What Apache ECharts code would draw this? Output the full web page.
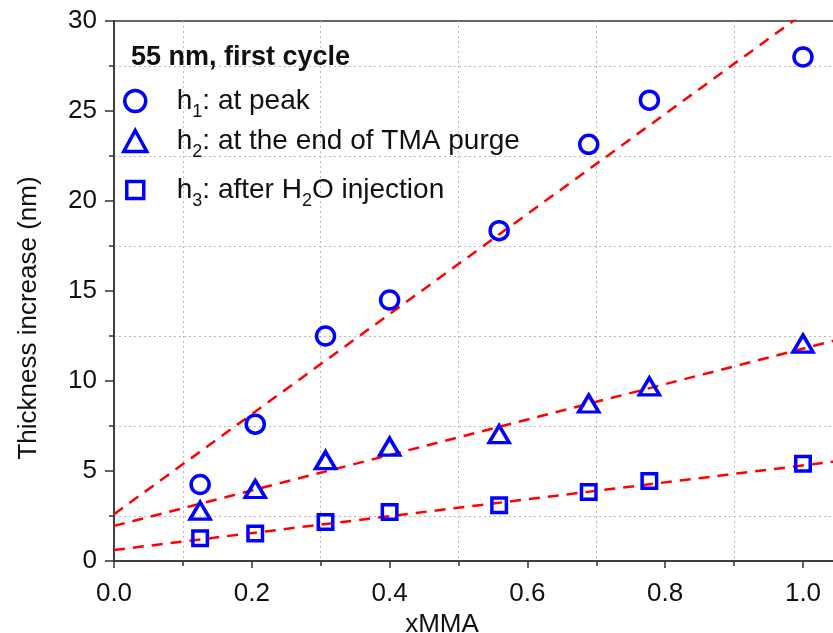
<!DOCTYPE html>
<html>
<head>
<meta charset="utf-8">
<script src="https://cdn.jsdelivr.net/npm/echarts@6/dist/echarts.min.js"></script>
<style>
  html, body { margin: 0; padding: 0; background: #fff; }
  #chart { width: 833px; height: 633px; }
</style>
</head>
<body>
<div id="chart"></div>
<script>
// MMA fraction of each sample
const xMMA = [0.125, 0.205, 0.307, 0.4, 0.559, 0.689, 0.777, 1.0];
// Thickness increase (nm)
const h1Peak = [4.25, 7.6, 12.5, 14.5, 18.35, 23.15, 25.6, 28.0];
const h2Purge = [2.8, 4.0, 5.6, 6.35, 7.05, 8.75, 9.7, 12.08];
const h3Water = [1.26, 1.53, 2.16, 2.72, 3.1, 3.83, 4.45, 5.4];
// Linear fits, evaluated at the ends of the x range
const fitX = [0, 1.05];
const fitH1 = [2.6, 31.79];
const fitH2 = [1.95, 12.29];
const fitH3 = [0.61, 5.545];

const FONT = '"Liberation Sans", Arial, sans-serif';
const BLUE = '#0000ff';
const RED = '#ff0000';

const pairs = (xs, ys) => xs.map((x, i) => [x, ys[i]]);

const legendRich = {
  n: { fontSize: 28, fontFamily: FONT, color: '#111', lineHeight: 40 },
  s: { fontSize: 18, fontFamily: FONT, color: '#111', lineHeight: 8, verticalAlign: 'bottom' }
};
const legendText = {
  h1: '{n|h}{s|1}{n|: at peak}',
  h2: '{n|h}{s|2}{n|: at the end of TMA purge}',
  h3: '{n|h}{s|3}{n|: after H}{s|2}{n|O injection}'
};
// one legend block per row so every row sits where it belongs
function makeLegend(name, top, w, h) {
  return {
    data: [name],
    left: 123 + (21 - w) / 2,
    top: top,
    padding: 0,
    itemWidth: w,
    itemHeight: h,
    itemGap: 0,
    selectedMode: false,
    itemStyle: { color: 'rgba(0,0,0,0)', borderColor: BLUE, borderWidth: 3.5, opacity: 1 },
    formatter: n => legendText[n],
    textStyle: { rich: legendRich, padding: [0, 0, 0, 36.5 - w / 2] }
  };
}

const scatterStyle = {
  color: 'rgba(0,0,0,0)',
  borderColor: BLUE,
  borderWidth: 3.5,
  opacity: 1
};
const fitLine = (ys) => ({
  type: 'line',
  data: pairs(fitX, ys),
  showSymbol: false,
  symbol: 'none',
  silent: true,
  clip: true,
  lineStyle: { color: RED, width: 2.5, type: [11, 8] },
  z: 1
});

const chart = echarts.init(document.getElementById('chart'), null, { renderer: 'canvas' });
chart.setOption({
  animation: false,
  backgroundColor: '#fff',
  title: {
    text: '55 nm, first cycle',
    left: 131,
    top: 44,
    padding: 0,
    textStyle: { fontFamily: FONT, fontWeight: 'bold', fontSize: 27, color: '#111' }
  },
  legend: [
    makeLegend('h1', 87, 21, 21),
    makeLegend('h2', 127, 23, 21),
    makeLegend('h3', 176, 17, 17)
  ],
  grid: {
    left: 114, right: -1, top: 21, bottom: 72,
    outerBoundsMode: 'none',
    containLabel: false,
    show: true, borderColor: '#333', borderWidth: 1.5, backgroundColor: 'transparent'
  },
  xAxis: {
    type: 'value',
    min: 0, max: 1.045, interval: 0.2,
    name: 'xMMA',
    nameLocation: 'middle',
    nameGap: 40,
    nameTextStyle: { fontFamily: FONT, fontSize: 26, color: '#111', padding: [0, 64, 0, 0] },
    axisLine: { lineStyle: { color: '#333', width: 1.5 } },
    axisTick: { show: true, length: 7, lineStyle: { color: '#333', width: 1.5 } },
    minorTick: { show: true, splitNumber: 2, length: 5, lineStyle: { color: '#333', width: 1.5 } },
    splitLine: { show: false },
    minorSplitLine: { show: true, lineStyle: { color: '#b8b8b8', width: 1, type: [2, 3] } },
    axisLabel: {
      fontFamily: FONT, fontSize: 26, color: '#111', margin: 20,
      showMaxLabel: false,
      formatter: v => v.toFixed(1)
    }
  },
  yAxis: {
    type: 'value',
    min: 0, max: 30, interval: 5,
    name: 'Thickness increase (nm)',
    nameLocation: 'middle',
    nameGap: 72,
    nameTextStyle: { fontFamily: FONT, fontSize: 26, color: '#111', padding: [0, 54, 0, 0] },
    axisLine: { show: true, lineStyle: { color: '#333', width: 1.5 } },
    axisTick: { show: true, length: 9, lineStyle: { color: '#333', width: 1.5 } },
    minorTick: { show: true, splitNumber: 2, length: 5, lineStyle: { color: '#333', width: 1.5 } },
    splitLine: { show: false },
    minorSplitLine: { show: true, lineStyle: { color: '#b8b8b8', width: 1, type: [2, 3] } },
    axisLabel: { fontFamily: FONT, fontSize: 26, color: '#111', margin: 17 }
  },
  series: [
    fitLine(fitH1),
    fitLine(fitH2),
    fitLine(fitH3),
    {
      name: 'h1', type: 'scatter', data: pairs(xMMA, h1Peak),
      symbol: 'circle', symbolSize: 18, itemStyle: scatterStyle, z: 3
    },
    {
      name: 'h2', type: 'scatter', data: pairs(xMMA, h2Purge),
      symbol: 'triangle', symbolSize: [20, 17], itemStyle: scatterStyle, z: 3
    },
    {
      name: 'h3', type: 'scatter', data: pairs(xMMA, h3Water),
      symbol: 'rect', symbolSize: 14.5, itemStyle: scatterStyle, z: 3
    }
  ]
});
</script>
</body>
</html>
